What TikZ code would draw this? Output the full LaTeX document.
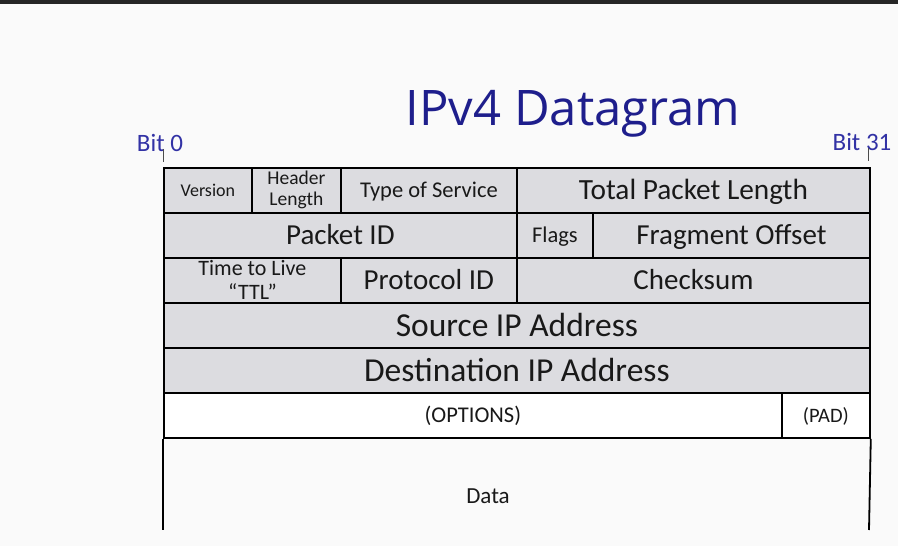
\documentclass[tikz,border=0pt]{standalone}
\usepackage{fontspec}
\setmainfont{Carlito}
\newfontfamily\titlefont{Open Sans}
\definecolor{bgc}{RGB}{250,250,250}
\definecolor{cellgray}{RGB}{220,220,224}
\definecolor{navy}{RGB}{30,30,140}
\definecolor{bitblue}{RGB}{50,50,165}
\definecolor{txt}{RGB}{25,25,25}
\newcommand\fsz[1]{\fontsize{#1}{#1}\selectfont}
\begin{document}
\begin{tikzpicture}[x=1pt,y=-1pt,
  cell/.style={draw=black, line width=1.8pt, fill=cellgray, inner sep=0pt,
    text=txt, anchor=north west, minimum height=45pt},
  wcell/.style={cell, fill=white},
  one/.style={font=\fsz{#1}, text height=#1*0.644pt, text depth=0pt},
  bitlbl/.style={font=\fsz{25}, text=bitblue, anchor=base},
  tick/.style={draw=black!70, line width=1pt},
  side/.style={draw=black, line width=1.8pt}]
\fill[bgc] (0,0) rectangle (898,546);
\useasboundingbox (0,0) rectangle (898,546);
\fill[black!85] (0,0) rectangle (898,3.5);

\node[font=\titlefont\fsz{49}, text=navy, anchor=base] (title) at (573,125) {IPv4 Datagram};
\node[bitlbl] (bit0) at (160,151) {Bit 0};
\node[bitlbl] (bit31) at (862,150) {Bit 31};

% row 1
\node[cell, one=18, minimum width=88pt] (ver) at (163,167) {Version};
\node[cell, font=\fontsize{19.5}{21}\selectfont, align=center, minimum width=89pt] (hl) at (251,167) {Header\\Length};
\node[cell, one=22.5, minimum width=176pt] (tos) at (340,167) {Type of Service};
\node[cell, one=29.3, minimum width=353pt] (tpl) at (516,167) {Total Packet Length};
% row 2
\node[cell, one=29, minimum width=353pt] (pid) at (163,212) {Packet ID};
\node[cell, one=22.5, minimum width=76pt] (flg) at (516,212) {Flags};
\node[cell, one=29, minimum width=277pt] (fo) at (592,212) {Fragment Offset};
% row 3
\node[cell, font=\fontsize{22}{21}\selectfont, align=center, minimum width=177pt] (ttl) at (163,257) {Time to Live\\\raisebox{-3pt}{“TTL”}};
\node[cell, one=29, minimum width=176pt] (prot) at (340,257) {Protocol ID};
\node[cell, one=29, minimum width=353pt] (chk) at (516,257) {Checksum};
% rows 4,5
\node[cell, one=33.5, minimum width=706pt] (src) at (163,302) {Source IP Address};
\node[cell, one=33.5, minimum width=706pt] (dst) at (163,347) {Destination IP Address};
% row 6
\node[wcell, one=22.5, minimum width=618pt] (opt) at (163,392) {(OPTIONS)};
\node[wcell, one=20.5, minimum width=88pt] (pad) at (781,392) {(PAD)};

% data
\coordinate (dl) at (163,530);
\coordinate (dr) at (869,530);
\draw[side] (opt.south west) -- (dl);
\draw[side] (pad.south east) -- (dr);
\node[font=\fsz{23}, text=txt] (data) at (488,496) {Data};

% bit ticks
\coordinate (t0a) at (163,149);
\coordinate (t0b) at (163,162);
\coordinate (t31a) at (868,148);
\coordinate (t31b) at (868,161);
\draw[tick] (t0a) -- (t0b);
\draw[tick] (t31a) -- (t31b);
\end{tikzpicture}
\end{document}
